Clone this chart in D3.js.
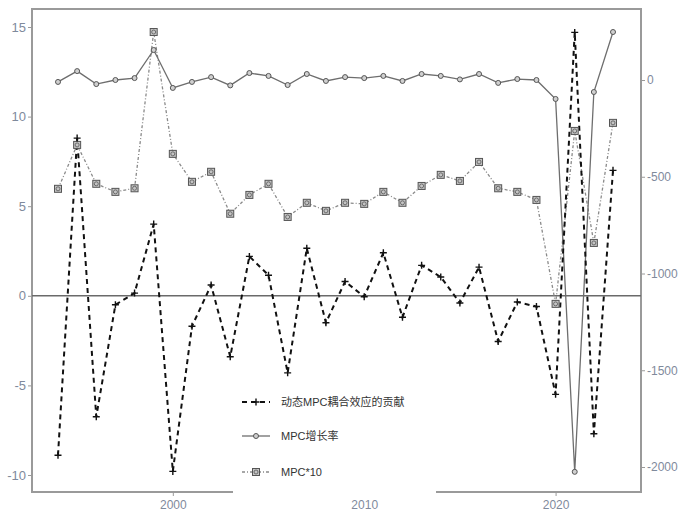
<!DOCTYPE html>
<html>
<head>
<meta charset="utf-8">
<script src="https://cdn.jsdelivr.net/npm/d3@7"></script>
<style>
  body { margin: 0; background: #fff; }
  text { font-family: "Liberation Sans", Arial, "Noto Sans CJK SC", sans-serif; }
</style>
</head>
<body>
<div id="chart"></div>
<script>
const years = d3.range(1994, 2024);
// 动态MPC耦合效应的贡献 (left axis)
const contrib = [-8.9, 8.8, -6.75, -0.5, 0.15, 4.0, -9.8, -1.7, 0.6, -3.4,
  2.2, 1.15, -4.3, 2.65, -1.5, 0.8, -0.05, 2.4, -1.2, 1.7,
  1.05, -0.4, 1.6, -2.55, -0.35, -0.6, -5.5, 14.7, -7.7, 7.0];
// MPC增长率 (right axis)
const mpcGrowth = [-10, 46, -21, 0, 10, 155, -41, -10, 15, -28,
  36, 21, -26, 31, -5, 15, 10, 21, -5, 31,
  21, 3, 31, -15, 5, 0, -98, -2025, -62, 248];
// MPC*10 (left axis)
const mpc10 = [5.97, 8.42, 6.25, 5.8, 6.0, 14.72, 7.92, 6.36, 6.92, 4.58,
  5.63, 6.25, 4.4, 5.19, 4.74, 5.19, 5.13, 5.8, 5.19, 6.13,
  6.75, 6.41, 7.47, 6.0, 5.8, 5.35, -0.45, 9.2, 2.95, 9.65];

const leftTicks = [-10, -5, 0, 5, 10, 15];
const rightTicks = [-2000, -1500, -1000, -500, 0];
const xTicks = [2000, 2010, 2020];
const legendLabels = ['动态MPC耦合效应的贡献', 'MPC增长率', 'MPC*10'];

const W = 681, H = 513;
const frame = { left: 32, right: 641, top: 9, bottom: 492 };

const svg = d3.select('#chart').append('svg')
  .attr('width', W).attr('height', H);

const x = d3.scaleLinear().domain([1994, 2023]).range([58, 613]);
const yL = d3.scaleLinear().domain([-10, 15]).range([475, 27]);
const yR = d3.scaleLinear().domain([-2000, 0]).range([467, 80]);

const labelColor = '#7f8a9c';
const plain = d => String(d);

// frame
svg.append('rect')
  .attr('x', frame.left).attr('y', frame.top)
  .attr('width', frame.right - frame.left)
  .attr('height', frame.bottom - frame.top)
  .attr('fill', 'none').attr('stroke', '#9a9a9a').attr('stroke-width', 2);

// axes
const axL = svg.append('g')
  .attr('transform', `translate(${frame.left},0)`)
  .call(d3.axisLeft(yL).tickValues(leftTicks).tickFormat(plain).tickSize(4).tickPadding(2));
const axR = svg.append('g')
  .attr('transform', `translate(${frame.right},0)`)
  .call(d3.axisRight(yR).tickValues(rightTicks).tickFormat(plain).tickSize(4).tickPadding(2));
const axB = svg.append('g')
  .attr('transform', `translate(0,${frame.bottom})`)
  .call(d3.axisBottom(x).tickValues(xTicks).tickFormat(plain).tickSize(4).tickPadding(4));

[axL, axR, axB].forEach(g => {
  g.select('.domain').remove();
  g.selectAll('line').attr('stroke', '#9a9a9a');
  g.selectAll('text').attr('fill', labelColor).style('font-size', '13px');
});
axR.selectAll('text').style('font-size', '12px');
axB.selectAll('text').style('font-size', '12px');

// zero line
svg.append('line')
  .attr('x1', frame.left).attr('x2', frame.right)
  .attr('y1', yL(0)).attr('y2', yL(0))
  .attr('stroke', '#6a6a6a').attr('stroke-width', 1.6);

// MPC*10 dash-dot
svg.append('path')
  .datum(years.map((yr, i) => [yr, mpc10[i]]))
  .attr('fill', 'none').attr('stroke', '#8a8a8a').attr('stroke-width', 1.3)
  .attr('stroke-dasharray', '3,2,1,2')
  .attr('d', d3.line().x(d => x(d[0])).y(d => yL(d[1])));

// MPC growth solid
svg.append('path')
  .datum(years.map((yr, i) => [yr, mpcGrowth[i]]))
  .attr('fill', 'none').attr('stroke', '#6e6e6e').attr('stroke-width', 1.3)
  .attr('d', d3.line().x(d => x(d[0])).y(d => yR(d[1])));

// contribution dashed
svg.append('path')
  .datum(years.map((yr, i) => [yr, contrib[i]]))
  .attr('fill', 'none').attr('stroke', '#111').attr('stroke-width', 2)
  .attr('stroke-dasharray', '5,4')
  .attr('d', d3.line().x(d => x(d[0])).y(d => yL(d[1])));

// markers
function squareMark(g, cx, cy) {
  g.append('rect').attr('x', cx - 3.5).attr('y', cy - 3.5).attr('width', 7).attr('height', 7)
    .attr('fill', '#c4c4c4').attr('stroke', '#555').attr('stroke-width', 1);
  g.append('circle').attr('cx', cx).attr('cy', cy).attr('r', 2)
    .attr('fill', 'none').attr('stroke', '#555').attr('stroke-width', 0.8);
}
function circleMark(g, cx, cy) {
  g.append('circle').attr('cx', cx).attr('cy', cy).attr('r', 2.5)
    .attr('fill', '#d0d0d0').attr('stroke', '#555').attr('stroke-width', 1);
}
function plusMark(g, cx, cy) {
  g.append('path').attr('d', `M${cx - 3.5},${cy}H${cx + 3.5}M${cx},${cy - 3.5}V${cy + 3.5}`)
    .attr('stroke', '#111').attr('stroke-width', 1.4);
}

const mk = svg.append('g');
years.forEach((yr, i) => squareMark(mk, x(yr), yL(mpc10[i])));
years.forEach((yr, i) => circleMark(mk, x(yr), yR(mpcGrowth[i])));
years.forEach((yr, i) => plusMark(mk, x(yr), yL(contrib[i])));

// legend
const lg = svg.append('g');
lg.append('rect').attr('x', 233).attr('y', 384).attr('width', 203).attr('height', 114)
  .attr('fill', '#fff');
const legendY = [402, 436, 472];
const legendStyle = [
  { stroke: '#111', w: 2, dash: '5,4', mark: plusMark },
  { stroke: '#6e6e6e', w: 1.3, dash: null, mark: circleMark },
  { stroke: '#8a8a8a', w: 1.3, dash: '3,2,1,2', mark: squareMark }
];
legendLabels.forEach((lab, i) => {
  const s = legendStyle[i];
  lg.append('line').attr('x1', 242).attr('x2', 270).attr('y1', legendY[i]).attr('y2', legendY[i])
    .attr('stroke', s.stroke).attr('stroke-width', s.w)
    .attr('stroke-dasharray', s.dash);
  s.mark(lg, 256, legendY[i]);
  lg.append('text').attr('x', 281).attr('y', legendY[i]).attr('dy', '0.35em')
    .attr('fill', '#333').style('font-size', '11px').text(lab);
});
</script>
</body>
</html>
